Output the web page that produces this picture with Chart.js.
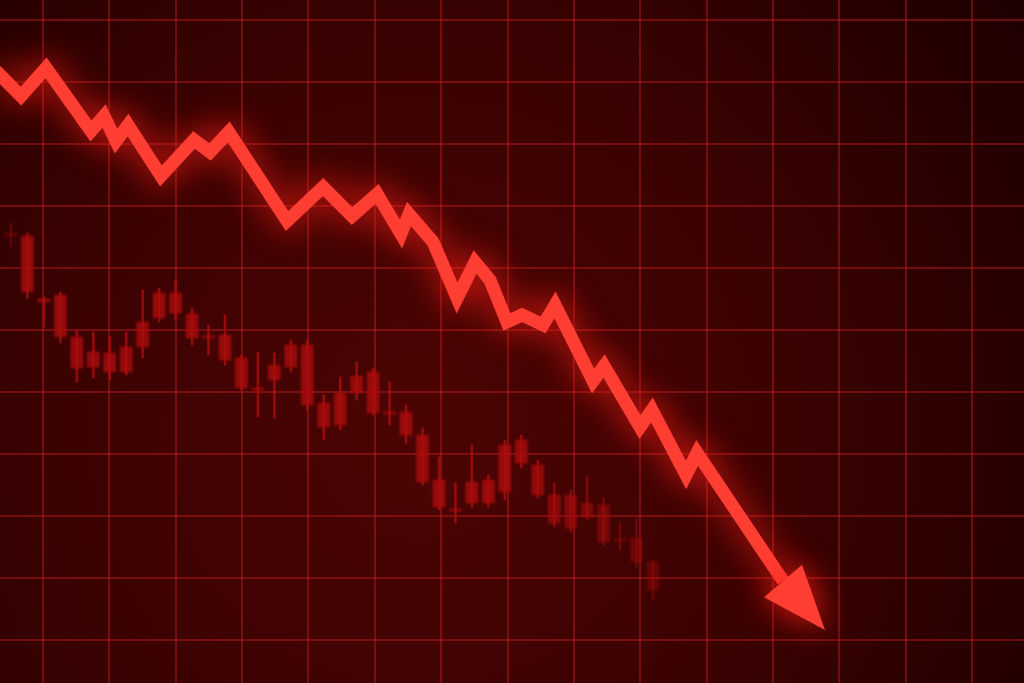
<!DOCTYPE html>
<html>
<head>
<meta charset="utf-8">
<script src="https://cdn.jsdelivr.net/npm/chart.js@4.4.1/dist/chart.umd.min.js"></script>
<style>
html,body{margin:0;padding:0;background:#2a0000;overflow:hidden}
canvas{display:block}
</style>
</head>
<body>
<canvas id="c" width="1024" height="683"></canvas>
<script>
// ---- Candles (trading day index, prices) ----
const candleDay   = [0,1,2,3,4,5,6,7,8,9,10,11,12,13,14,15,16,17,18,19,20,21,22,23,24,25,26,27,28,29,30,31,32,33,34,35,36,37,38,39];
const candleOpen  = [65.65,65.16,55.00,55.65,48.87,46.45,46.29,47.26,51.29,55.97,55.97,52.58,49.03,49.19,45.48,40.65,44.35,47.58,47.58,38.23,39.84,42.58,43.23,36.77,36.77,33.06,25.81,21.13,25.48,25.81,31.45,32.26,28.23,23.39,23.39,22.10,21.77,16.29,16.45,12.58];
const candleClose = [65.16,56.13,54.52,48.87,43.87,44.03,43.23,43.23,47.26,51.94,52.74,48.71,48.71,45.16,40.65,40.32,41.94,44.03,37.90,34.35,34.68,39.84,36.61,36.45,33.06,25.48,21.45,20.81,22.10,22.10,23.87,28.55,23.39,18.87,18.06,19.84,15.81,15.97,12.58,8.06];
const candleHigh  = [67.26,65.65,55.32,56.13,50.00,49.68,48.87,49.68,56.45,56.77,58.06,53.55,50.81,52.42,45.97,46.45,46.29,48.39,48.39,39.52,42.42,44.84,43.87,41.61,37.90,34.19,29.52,25.32,31.45,26.61,32.26,33.06,29.03,25.32,24.19,26.29,22.90,18.87,19.68,12.90];
const candleLow   = [63.55,55.16,50.48,47.90,41.61,42.26,41.94,42.74,45.48,51.29,51.61,47.58,45.97,44.35,40.32,35.97,35.81,43.23,37.10,32.26,33.87,38.71,36.29,34.68,31.77,25.00,20.97,18.87,21.45,21.45,22.58,27.74,22.90,18.23,17.42,19.35,15.32,14.52,11.77,6.45];

// ---- Trend line (day, price) ----
const lineDay   = [-0.97,0.61,2.13,4.86,5.65,6.38,7.11,9.11,11.12,12.09,13.23,16.77,18.96,20.72,22.24,23.69,24.18,25.64,27.10,28.19,29.10,30.13,31.04,32.32,33.05,35.36,36.03,38.21,38.94,41.01,41.68,46.90];
const linePrice = [91.94,87.74,92.26,82.10,84.52,80.48,83.06,74.84,80.65,78.71,81.94,67.58,73.06,68.39,71.94,65.48,68.71,64.19,55.16,60.97,58.06,51.29,52.42,50.81,54.03,41.77,44.19,34.35,37.10,26.61,30.16,9.52];
const arrowTipDay   = [49.45];
const arrowTipPrice = [1.61];

// ---- Grid ticks ----
const gridColumns = [0,1,2,3,4,5,6,7,8,9,10,11,12,13,14];
const priceTicks  = [0,10,20,30,40,50,60,70,80,90,100];

const LINE_COLOR = '#ff3e33';
const GLOW_COLOR = 'rgba(255,30,20,1)';

const bodies = candleDay.map((d,i)=>({x:d, y:[candleClose[i], candleOpen[i]]}));
const wicks  = candleDay.map((d,i)=>({x:d, y:[candleLow[i], candleHigh[i]]}));
const linePts = lineDay.map((d,i)=>({x:d, y:linePrice[i]}));
const tipPts = arrowTipDay.map((d,i)=>({x:d, y:arrowTipPrice[i]}));

function candleAlpha(i){
  if (i === 0) return 0.35;
  if (i > 31) return Math.max(0.35, 0.8 - (i-31)*0.06);
  return 0.8;
}
const candleColor = (c)=>`rgba(170,12,12,${candleAlpha(c.dataIndex)})`;

const bgPlugin = {
  id:'bg',
  beforeDraw(chart){
    const {ctx,width,height} = chart;
    ctx.save();
    const g = ctx.createRadialGradient(420,430,0,420,430,780);
    g.addColorStop(0,'#4c0404');
    g.addColorStop(0.5,'#3a0202');
    g.addColorStop(0.85,'#240000');
    g.addColorStop(1,'#1a0000');
    ctx.fillStyle = g;
    ctx.fillRect(0,0,width,height);
    ctx.restore();
  }
};

const glowPlugin = {
  id:'glow',
  beforeDatasetDraw(chart,args){
    const ds = chart.data.datasets[args.index];
    if(!ds.glowBlur && !ds.softBlur) return;
    const ctx = chart.ctx;
    ctx.save();
    if (ds.glowBlur){ ctx.shadowColor = ds.glowColor; ctx.shadowBlur = ds.glowBlur; }
    if (ds.softBlur){ ctx.filter = `blur(${ds.softBlur}px)`; }
  },
  afterDatasetDraw(chart,args){
    const ds = chart.data.datasets[args.index];
    if(!ds.glowBlur && !ds.softBlur) return;
    chart.ctx.restore();
  }
};

const arrowPlugin = {
  id:'arrowHead',
  afterDatasetsDraw(chart){
    const lineMeta = chart.getDatasetMeta(0);
    const tipMeta = chart.getDatasetMeta(1);
    const base = lineMeta.data[lineMeta.data.length-1];
    const tip = tipMeta.data[0];
    const dx = tip.x-base.x, dy = tip.y-base.y, len = Math.hypot(dx,dy);
    const nx = -dy/len, ny = dx/len, hw = 25;
    const ctx = chart.ctx;
    ctx.save();
    ctx.shadowColor = GLOW_COLOR;
    ctx.shadowBlur = 32;
    ctx.fillStyle = LINE_COLOR;
    ctx.beginPath();
    ctx.moveTo(tip.x, tip.y);
    ctx.lineTo(base.x+nx*hw, base.y+ny*hw);
    ctx.lineTo(base.x-nx*hw, base.y-ny*hw);
    ctx.closePath();
    ctx.fill();
    ctx.restore();
  }
};

new Chart(document.getElementById('c'), {
  data:{
    datasets:[
      {type:'line', label:'Trend', data:linePts, xAxisID:'x', yAxisID:'y',
       borderColor:LINE_COLOR, borderWidth:13, tension:0, pointRadius:0,
       borderJoinStyle:'miter', borderCapStyle:'butt', fill:false, order:0,
       glowColor:GLOW_COLOR, glowBlur:34},
      {type:'line', label:'Tip', data:tipPts, xAxisID:'x', yAxisID:'y',
       pointRadius:0, borderWidth:0, showLine:false, order:1},
      {type:'bar', label:'Body', data:bodies, xAxisID:'x', yAxisID:'y',
       backgroundColor:candleColor, barThickness:12, grouped:false, borderWidth:0, order:2,
       softBlur:0.9},
      {type:'bar', label:'Wick', data:wicks, xAxisID:'x', yAxisID:'y',
       backgroundColor:candleColor, barThickness:2, grouped:false, borderWidth:0, order:3,
       softBlur:0.7}
    ]
  },
  options:{
    responsive:false,
    devicePixelRatio:1,
    animation:false,
    events:[],
    layout:{padding:0},
    plugins:{legend:{display:false}, tooltip:{enabled:false}, title:{display:false}},
    scales:{
      x:{type:'linear', display:false, min:-0.668, max:61.54, offset:false},
      xg:{type:'linear', position:'bottom', display:true, min:-0.648, max:14.783, offset:false,
          afterBuildTicks:(s)=>{s.ticks = gridColumns.map(v=>({value:v}));},
          ticks:{display:false},
          border:{display:false},
          grid:{color:'rgba(205,30,30,0.42)', lineWidth:2, drawTicks:false, offset:false}},
      y:{type:'linear', position:'left', display:true, min:-6.94, max:103.23, offset:false,
         afterBuildTicks:(s)=>{s.ticks = priceTicks.map(v=>({value:v}));},
         ticks:{display:false},
         border:{display:false},
         grid:{color:'rgba(205,30,30,0.42)', lineWidth:2, drawTicks:false}}
    }
  },
  plugins:[bgPlugin, glowPlugin, arrowPlugin]
});
</script>
</body>
</html>
